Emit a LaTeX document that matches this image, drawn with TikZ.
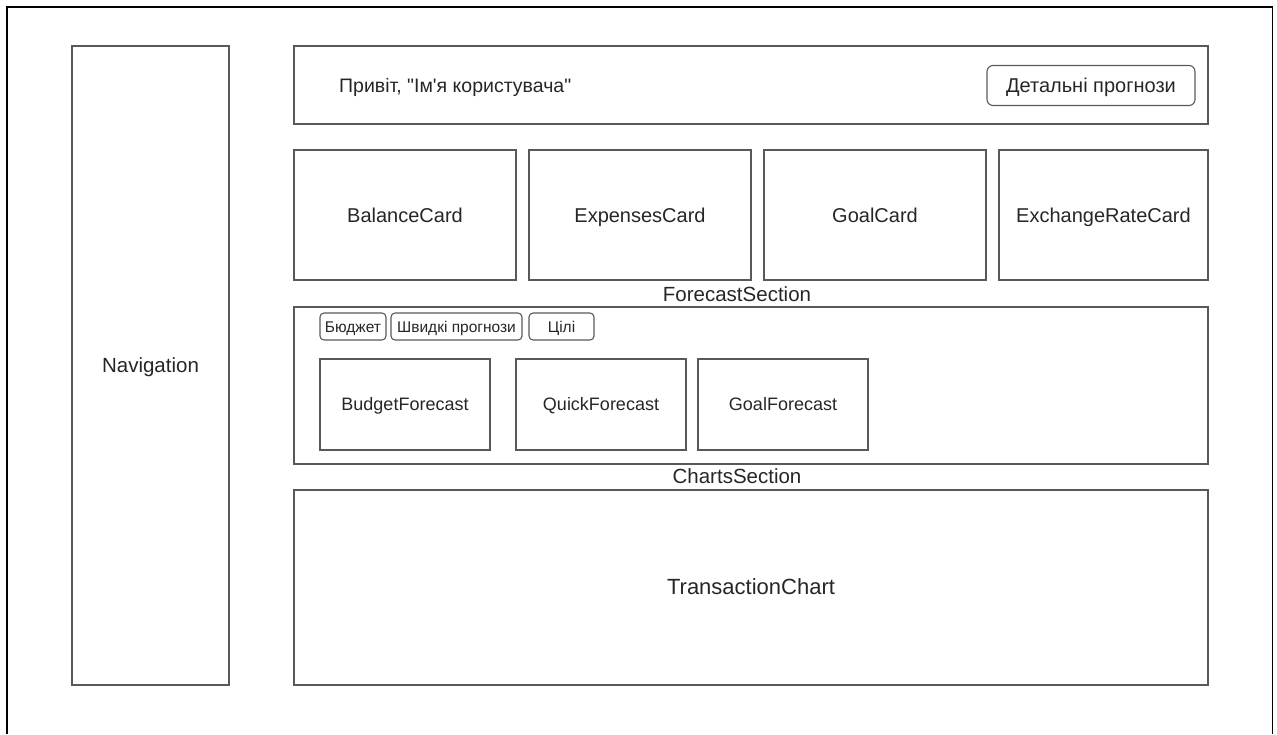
\documentclass[tikz,border=0pt]{standalone}
\usepackage{fontspec}
\setmainfont{Liberation Sans}[Ligatures=TeXOff]
\usetikzlibrary{positioning}

\tikzset{textSize/.style={font=\fontsize{#1}{#1}\selectfont,text height=0.716*#1pt,text depth=0pt}}
\tikzstyle{panelBox}=[shape=rectangle,draw=black!65,line width=1.3pt,inner sep=0pt,text=black!85]
\tikzstyle{tabButton}=[shape=rectangle,rounded corners=4pt,draw=black!65,line width=1.1pt,inner sep=0pt,text=black!85]
\tikzstyle{sectionLabel}=[inner sep=0pt,text=black!85,textSize=20.5]

\begin{document}
\begin{tikzpicture}[x=1pt,y=-1pt]
        \useasboundingbox (0,0) rectangle (1277,734);
        % outer frame
        \coordinate (f1) at (7,734);
        \coordinate (f2) at (7,7);
        \coordinate (f3) at (1272.5,7);
        \coordinate (f4) at (1272.5,734);
        \draw [line width=1.5pt,black] (f1) -- (f2) -- (f3) -- (f4);

        % navigation
        \node[panelBox,minimum width=157pt,minimum height=639pt,textSize=20.5] (nav) at (150.5,365.5) {Navigation};

        % header
        \node[panelBox,minimum width=914pt,minimum height=78pt] (header) at (751,85) {};
        \node[anchor=west,inner sep=0pt,text=black!85,textSize=19.5] (hello) at (339,86) {Привіт, "Ім'я користувача"};
        \node[tabButton,rounded corners=6pt,minimum width=208pt,minimum height=40pt,textSize=20] (details) at (1091,85.5) {Детальні прогнози};

        % cards
        \node[panelBox,minimum width=222pt,minimum height=130pt,textSize=20] (balance) at (405,215) {BalanceCard};
        \node[panelBox,minimum width=222pt,minimum height=130pt,textSize=20] (expenses) at (640,215) {ExpensesCard};
        \node[panelBox,minimum width=222pt,minimum height=130pt,textSize=20] (goal) at (875,215) {GoalCard};
        \node[panelBox,minimum width=209pt,minimum height=130pt,textSize=20] (exchange) at (1103.5,215) {ExchangeRateCard};

        % forecasts
        \node[sectionLabel] (forecastLbl) at (737,294.5) {ForecastSection};
        \node[panelBox,minimum width=914pt,minimum height=157pt] (forecast) at (751,385.5) {};

        \node[tabButton,minimum width=66pt,minimum height=27pt,textSize=15.5] (budgetTab) at (353,326.5) {Бюджет};
        \node[tabButton,minimum width=131pt,minimum height=27pt,textSize=15.5] (quickTab) at (456.5,326.5) {Швидкі прогнози};
        \node[tabButton,minimum width=65pt,minimum height=27pt,textSize=15.5] (goalsTab) at (561.5,326.5) {Цілі};

        \node[panelBox,minimum width=170pt,minimum height=91pt,textSize=18] (budgetFc) at (405,404.5) {BudgetForecast};
        \node[panelBox,minimum width=170pt,minimum height=91pt,textSize=18] (quickFc) at (601,404.5) {QuickForecast};
        \node[panelBox,minimum width=170pt,minimum height=91pt,textSize=18] (goalFc) at (783,404.5) {GoalForecast};

        % charts
        \node[sectionLabel] (chartsLbl) at (737,476.5) {ChartsSection};
        \node[panelBox,minimum width=914pt,minimum height=195pt] (chart) at (751,587.5) {};
        \node[inner sep=0pt,text=black!85,textSize=22] (chartLbl) at (751,586.5) {TransactionChart};
    \end{tikzpicture}
\end{document}
